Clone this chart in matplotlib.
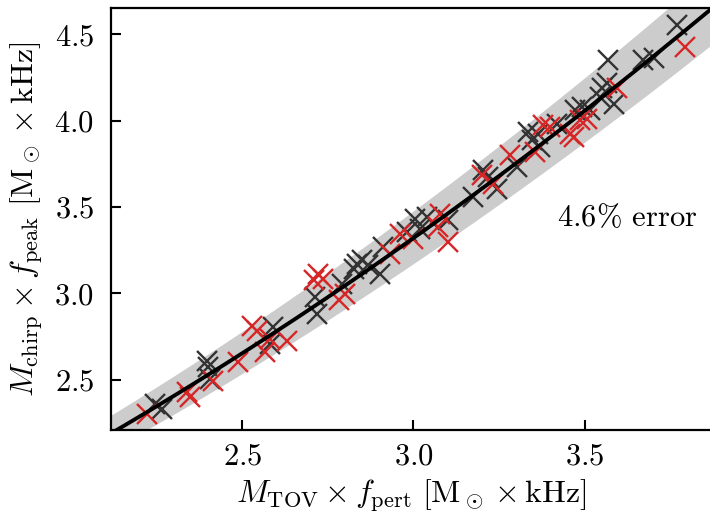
import numpy as np
import matplotlib
matplotlib.use("Agg")
import matplotlib.pyplot as plt

plt.rcParams['font.family'] = 'serif'
plt.rcParams['font.serif'] = ['cmr10']
plt.rcParams['mathtext.fontset'] = 'cm'
plt.rcParams['axes.formatter.use_mathtext'] = True
plt.rcParams['font.size'] = 22

# data
black_x = [2.245, 2.264, 2.396, 2.401, 2.406, 2.581, 2.591, 2.713, 2.718,
           2.791, 2.835, 2.849, 2.825, 2.868, 2.903, 2.912, 2.981, 3.005,
           3.020, 3.039, 3.102, 3.175, 3.219, 3.244, 3.204, 3.302, 3.336,
           3.346, 3.365, 3.370, 3.419, 3.473, 3.492, 3.517, 3.546, 3.551,
           3.566, 3.585, 3.570, 3.672, 3.702, 3.770]
black_y = [2.359, 2.330, 2.610, 2.571, 2.506, 2.709, 2.804, 2.978, 2.883,
           3.055, 3.172, 3.191, 3.142, 3.162, 3.113, 3.268, 3.355, 3.433,
           3.375, 3.442, 3.423, 3.558, 3.674, 3.607, 3.713, 3.732, 3.935,
           3.887, 3.926, 3.848, 3.984, 4.061, 4.080, 4.061, 4.138, 4.187,
           4.216, 4.100, 4.351, 4.351, 4.361, 4.555]

red_x = [2.220, 2.337, 2.347, 2.415, 2.488, 2.527, 2.542, 2.566, 2.581,
         2.630, 2.708, 2.722, 2.737, 2.800, 2.781, 2.932, 2.961, 3.000,
         3.078, 3.102, 3.073, 3.200, 3.234, 3.283, 3.356, 3.380, 3.400,
         3.458, 3.468, 3.487, 3.507, 3.595, 3.794]
red_y = [2.301, 2.426, 2.397, 2.494, 2.600, 2.813, 2.784, 2.658, 2.738,
         2.726, 3.075, 3.113, 3.084, 2.997, 2.959, 3.230, 3.346, 3.317,
         3.462, 3.297, 3.384, 3.684, 3.636, 3.800, 3.819, 3.974, 3.964,
         3.926, 3.906, 4.003, 4.013, 4.187, 4.429]

# quadratic fit around x = 3
fit_coef = [3.32, 1.404, 0.14]
err = 0.046

xlim = (2.116, 3.873)
ylim = (2.205, 4.652)

fig = plt.figure(figsize=(7.1, 5.16), dpi=100)
ax = fig.add_axes([0.1563, 0.1657, 0.8467, 0.8183])

xs = np.linspace(xlim[0] - 0.1, xlim[1] + 0.1, 300)
ys = fit_coef[0] + fit_coef[1] * (xs - 3) + fit_coef[2] * (xs - 3) ** 2
ax.fill_between(xs, ys * (1 - err), ys * (1 + err), color='#cccccc', lw=0, zorder=1)
ax.plot(xs, ys, color='k', lw=2.8, zorder=4)

ax.plot(black_x, black_y, 'x', color='#333333', ms=14, mew=1.7, zorder=2)
ax.plot(red_x, red_y, 'x', color='#d62728', ms=14, mew=1.7, zorder=3)

ax.text(3.625, 3.44, r'4.6$\%$ error', ha='center', va='center', fontsize=22)

ax.set_xlim(*xlim)
ax.set_ylim(*ylim)
ax.set_xticks([2.5, 3.0, 3.5])
ax.set_yticks([2.5, 3.0, 3.5, 4.0, 4.5])
ax.tick_params(direction='in', length=7, width=1.5)
ax.tick_params(axis='x', pad=9)
ax.tick_params(axis='y', pad=12)
for s in ax.spines.values():
    s.set_linewidth(1.6)

ax.set_xlabel(r'$M_\mathrm{TOV} \times f_\mathrm{pert}\ [\mathrm{M}_\odot \times \mathrm{kHz}]$',
              fontsize=23, labelpad=5)
ax.set_ylabel(r'$M_\mathrm{chirp} \times f_\mathrm{peak}\ [\mathrm{M}_\odot \times \mathrm{kHz}]$',
              fontsize=23, labelpad=7)

fig.savefig('out.png', dpi=100)
